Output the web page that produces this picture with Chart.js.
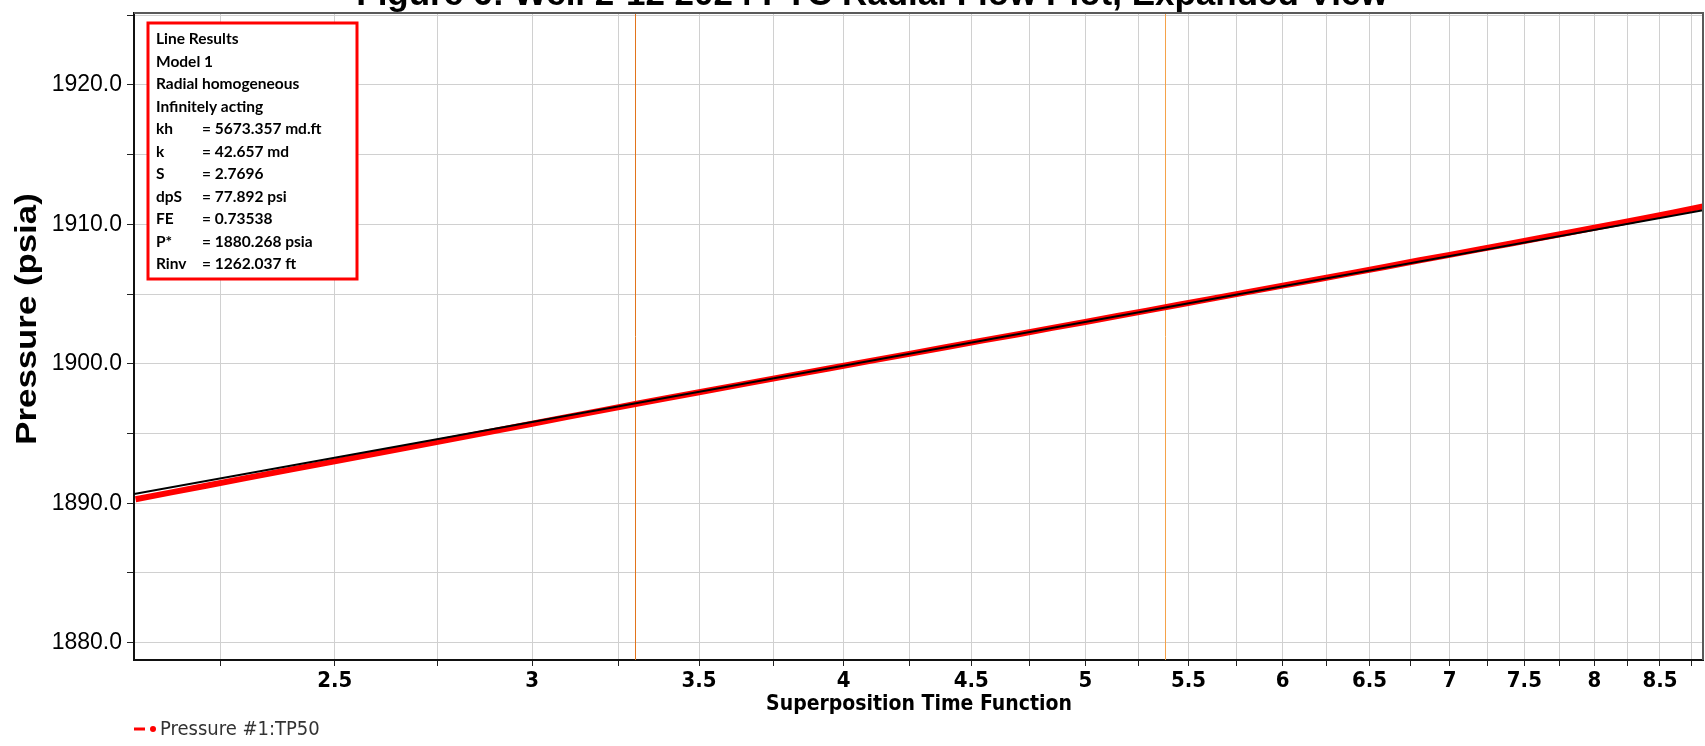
<!DOCTYPE html>
<html>
<head>
<meta charset="utf-8">
<script src="https://cdn.jsdelivr.net/npm/chart.js@4/dist/chart.umd.min.js"></script>
<style>
  html, body { margin: 0; padding: 0; background: #ffffff; }
  #wrap { width: 1705px; height: 746px; position: relative; }
</style>
</head>
<body>
<div id="wrap"><canvas id="chart" width="1705" height="746"></canvas></div>
<script>
// Superposition time function (x) and gauge pressure (psia) for the buildup
const timeFn = [2.08, 2.15, 2.22, 2.3, 2.4, 2.5, 2.6, 2.7, 2.8, 2.9,
                3.0, 3.1, 3.2, 3.3, 3.4, 3.5, 3.65, 3.8, 3.95, 4.1,
                4.25, 4.4, 4.55, 4.7, 4.85, 5.0, 5.15, 5.3, 5.45, 5.6,
                5.8, 6.0, 6.2, 6.4, 6.6, 6.8, 7.0, 7.2, 7.4, 7.6,
                7.8, 8.0, 8.2, 8.4, 8.6, 8.845];
const pressure = [1890.29, 1890.78, 1891.25, 1891.78, 1892.41, 1893.00, 1893.58, 1894.14, 1894.68, 1895.20,
                  1895.70, 1896.19, 1896.66, 1897.11, 1897.55, 1897.96, 1898.56, 1899.13, 1899.68, 1900.21,
                  1900.71, 1901.20, 1901.68, 1902.12, 1902.57, 1903.00, 1903.42, 1903.83, 1904.23, 1904.62,
                  1905.12, 1905.60, 1906.06, 1906.52, 1906.96, 1907.40, 1907.81, 1908.22, 1908.61, 1909.00,
                  1909.38, 1909.75, 1910.11, 1910.48, 1910.84, 1911.28];

// Semi-log straight line fitted through the radial flow period
const lineX = [2.077, 8.845];
const lineP = [1890.66, 1911.00];

// Start / end of the selected radial flow period
const periodMarks = [3.298, 5.383];
const periodColors = ['#e2741c', '#f5a24a'];

// Axis ticks
const xTicks = [2.25, 2.5, 2.75, 3, 3.25, 3.5, 3.75, 4, 4.25, 4.5, 4.75, 5, 5.25, 5.5,
                5.75, 6, 6.25, 6.5, 6.75, 7, 7.25, 7.5, 7.75, 8, 8.25, 8.5, 8.75];
const yTicks = [1880, 1885, 1890, 1895, 1900, 1905, 1910, 1915, 1920, 1925];

// Results of the line analysis
const resultHeader = ['Line Results', 'Model 1', 'Radial homogeneous', 'Infinitely acting'];
const resultNames = ['kh', 'k', 'S', 'dpS', 'FE', 'P*', 'Rinv'];
const resultValues = ['= 5673.357 md.ft', '= 42.657 md', '= 2.7696', '= 77.892 psi',
                      '= 0.73538', '= 1880.268 psia', '= 1262.037 ft'];

const titleText = 'Figure 6: Well 2-12 2024 PTC Radial Flow Plot, Expanded View';
const xTitle = 'Superposition Time Function';
const yTitle = 'Pressure (psia)';
const seriesName = 'Pressure #1:TP50';

const narrow = '"Liberation Sans Narrow", "DejaVu Sans Condensed", "Liberation Sans", sans-serif';

const decorations = {
  id: 'decorations',
  beforeDatasetsDraw(chart) {
    const { ctx, chartArea: a, scales: { x } } = chart;
    ctx.save();
    periodMarks.forEach((v, i) => {
      const px = Math.round(x.getPixelForValue(v)) + 0.5;
      ctx.strokeStyle = periodColors[i];
      ctx.lineWidth = 1;
      ctx.beginPath();
      ctx.moveTo(px, a.top);
      ctx.lineTo(px, a.bottom);
      ctx.stroke();
    });
    ctx.restore();
  },
  afterDraw(chart) {
    const { ctx, chartArea: a } = chart;
    ctx.save();
    // frame on top and right
    ctx.strokeStyle = '#5a5a5a';
    ctx.lineWidth = 2;
    ctx.beginPath();
    ctx.moveTo(a.left, a.top);
    ctx.lineTo(a.right, a.top);
    ctx.lineTo(a.right, a.bottom);
    ctx.stroke();

    // title (partly above the page edge)
    ctx.fillStyle = '#000';
    ctx.font = 'bold 35px "Liberation Sans", Arial, sans-serif';
    ctx.textAlign = 'center';
    ctx.textBaseline = 'alphabetic';
    ctx.fillText(titleText, 872, 5);

    // axis titles
    ctx.font = 'bold 21px ' + narrow;
    ctx.textBaseline = 'middle';
    ctx.fillText(xTitle, 919, 705);

    ctx.save();
    ctx.translate(28, 319);
    ctx.rotate(-Math.PI / 2);
    ctx.scale(1.16, 1);
    ctx.font = 'bold 30px "Liberation Sans", Arial, sans-serif';
    ctx.fillText(yTitle, 0, 0);
    ctx.restore();

    // legend
    ctx.strokeStyle = '#ff0000';
    ctx.lineWidth = 3;
    ctx.beginPath();
    ctx.moveTo(134, 729);
    ctx.lineTo(145, 729);
    ctx.stroke();
    ctx.fillStyle = '#ff0000';
    ctx.beginPath();
    ctx.arc(153, 729, 3, 0, Math.PI * 2);
    ctx.fill();
    ctx.fillStyle = '#333';
    ctx.textAlign = 'left';
    ctx.font = '20px ' + narrow;
    ctx.fillText(seriesName, 160, 730);

    // results box
    ctx.fillStyle = '#fff';
    ctx.fillRect(148, 23, 209, 256);
    ctx.strokeStyle = '#ff0000';
    ctx.lineWidth = 3;
    ctx.strokeRect(148, 23, 209, 256);
    ctx.fillStyle = '#000';
    ctx.font = 'bold 15.5px Lato, "Open Sans", sans-serif';
    ctx.textBaseline = 'middle';
    const rows = resultHeader.map(t => [t, null]).concat(resultNames.map((n, i) => [n, resultValues[i]]));
    rows.forEach((r, i) => {
      const yy = 39 + i * 22.5;
      ctx.fillText(r[0], 156, yy);
      if (r[1]) ctx.fillText(r[1], 202, yy);
    });
    ctx.restore();
  }
};

new Chart(document.getElementById('chart'), {
  type: 'line',
  data: {
    datasets: [
      {
        label: seriesName,
        data: timeFn.map((t, i) => ({ x: t, y: pressure[i] })),
        borderColor: '#ff0000',
        backgroundColor: '#ff0000',
        borderWidth: 6,
        pointRadius: 0,
        tension: 0,
        order: 2
      },
      {
        label: 'Line',
        data: lineX.map((t, i) => ({ x: t, y: lineP[i] })),
        borderColor: '#000000',
        borderWidth: 2,
        pointRadius: 0,
        tension: 0,
        order: 1
      }
    ]
  },
  options: {
    responsive: false,
    animation: false,
    devicePixelRatio: 1,
    layout: { padding: { top: 13, right: 2, left: 0, bottom: 0 } },
    plugins: { legend: { display: false }, tooltip: { enabled: false }, title: { display: false } },
    scales: {
      x: {
        type: 'logarithmic',
        min: 2.077,
        max: 8.845,
        afterBuildTicks: s => { s.ticks = xTicks.map(v => ({ value: v })); },
        afterFit: s => { s.height = 86; },
        ticks: {
          autoSkip: false,
          maxRotation: 0,
          padding: 4,
          color: '#000',
          font: { family: narrow, size: 22, weight: 'bold', lineHeight: 1 },
          callback: v => (Math.abs(v * 2 - Math.round(v * 2)) < 1e-9 ? String(v) : '')
        },
        grid: { color: '#d0d0d0', lineWidth: 1, tickLength: 6, tickColor: '#222', drawTicks: true },
        border: { color: '#111', width: 2 }
      },
      y: {
        type: 'linear',
        min: 1878.76,
        max: 1925.15,
        afterBuildTicks: s => { s.ticks = yTicks.map(v => ({ value: v })); },
        afterFit: s => { s.width = 134; s.paddingTop = 0; s.paddingBottom = 0; },
        ticks: {
          autoSkip: false,
          padding: 5,
          color: '#000',
          font: { family: '"Liberation Sans", Arial, sans-serif', size: 23, lineHeight: 1 },
          callback: v => (v % 10 === 0 ? v.toFixed(1) : '')
        },
        grid: { color: '#d0d0d0', lineWidth: 1, tickLength: 7, tickColor: '#222', drawTicks: true },
        border: { color: '#111', width: 2 }
      }
    }
  },
  plugins: [decorations]
});
</script>
</body>
</html>
